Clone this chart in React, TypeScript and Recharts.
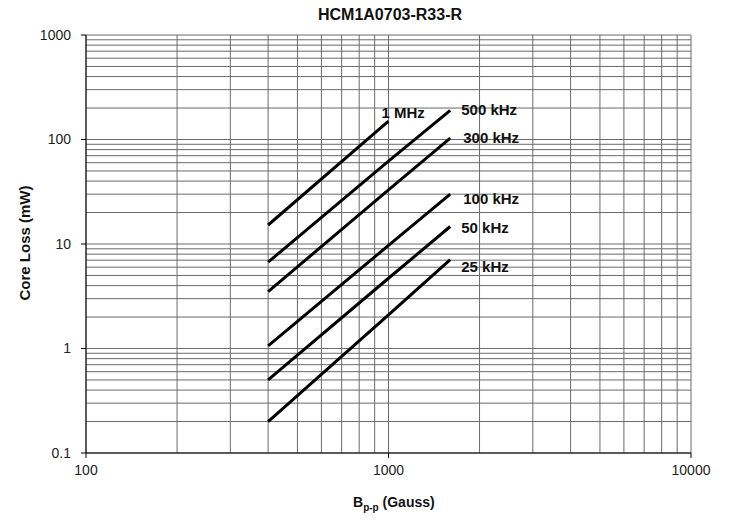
import React from "react";
import {
  LineChart,
  Line,
  XAxis,
  YAxis,
  ReferenceLine,
} from "recharts";

// flux density points (Gauss) and core loss (mW) per frequency
const bLong = [400, 1000, 1600];
const bShort = [400, 1000];

const loss1MHz = [15.2, 150];
const loss500k = [6.7, 62, 190];
const loss300k = [3.5, 33, 103];
const loss100k = [1.06, 9.7, 30];
const loss50k = [0.5, 4.7, 14.7];
const loss25k = [0.2, 2.1, 7.1];

const xTicks = [100, 1000, 10000];
const yTicks = [0.1, 1, 10, 100, 1000];

const seriesNames = ["1 MHz", "500 kHz", "300 kHz", "100 kHz", "50 kHz", "25 kHz"];

// log grid: 1..9 in every decade
const decadeLines = (decades: number[], last: number) => {
  const out: number[] = [];
  decades.forEach((d) => {
    for (let m = 1; m < 10; m++) out.push(d * m);
  });
  out.push(last);
  return out;
};
const xGrid = decadeLines([100, 1000], 10000);
const yGrid = decadeLines([0.1, 1, 10, 100], 1000);

const toPoints = (b: number[], loss: number[]) =>
  b.map((v, i) => ({ b: v, loss: loss[i] }));

const series = [
  { name: seriesNames[0], data: toPoints(bShort, loss1MHz) },
  { name: seriesNames[1], data: toPoints(bLong, loss500k) },
  { name: seriesNames[2], data: toPoints(bLong, loss300k) },
  { name: seriesNames[3], data: toPoints(bLong, loss100k) },
  { name: seriesNames[4], data: toPoints(bLong, loss50k) },
  { name: seriesNames[5], data: toPoints(bLong, loss25k) },
];

// label offset from the last point of each curve
const labelOffsets = [
  { dx: -7, dy: -3 },
  { dx: 11, dy: 5 },
  { dx: 13, dy: 5 },
  { dx: 13, dy: 10 },
  { dx: 11, dy: 6 },
  { dx: 11, dy: 12 },
];

const FONT = "'Liberation Sans', Arial, sans-serif";

const endLabel = (name: string, lastIndex: number, dx: number, dy: number) =>
  (props: any) => {
    if (props.index !== lastIndex) return <g />;
    return (
      <text
        x={props.x + dx}
        y={props.y + dy}
        fontFamily={FONT}
        fontSize={15}
        fontWeight="bold"
        fill="#111"
      >
        {name}
      </text>
    );
  };

export default function App() {
  return (
    <div style={{ position: "absolute", left: 0, top: 0, width: 730, height: 525, background: "#fff" }}>
      <LineChart
        width={730}
        height={525}
        margin={{ top: 35, right: 39, left: 0, bottom: 0 }}
      >
        <XAxis
          dataKey="b"
          type="number"
          scale="log"
          domain={[100, 10000]}
          ticks={xTicks}
          allowDataOverflow
          height={72}
          tickSize={5}
          tickMargin={7}
          stroke="#000"
          tick={{ fill: "#222", fontSize: 14, fontFamily: FONT }}
        />
        <YAxis
          dataKey="loss"
          type="number"
          scale="log"
          domain={[0.1, 1000]}
          ticks={yTicks}
          allowDataOverflow
          width={86}
          tickSize={5}
          tickMargin={10}
          stroke="#000"
          tick={{ fill: "#222", fontSize: 14, fontFamily: FONT }}
        />
        {xGrid.map((v) => (
          <ReferenceLine key={"x" + v} x={v} stroke="#6a6a6a" strokeWidth={1} ifOverflow="extendDomain" />
        ))}
        {yGrid.map((v) => (
          <ReferenceLine key={"y" + v} y={v} stroke="#6a6a6a" strokeWidth={1} ifOverflow="extendDomain" />
        ))}
        {series.map((s, i) => (
          <Line
            key={s.name}
            data={s.data}
            dataKey="loss"
            name={s.name}
            stroke="#000"
            strokeWidth={3}
            dot={false}
            isAnimationActive={false}
            label={endLabel(s.name, s.data.length - 1, labelOffsets[i].dx, labelOffsets[i].dy)}
          />
        ))}
      </LineChart>
      <svg
        width={730}
        height={525}
        style={{ position: "absolute", left: 0, top: 0, pointerEvents: "none" }}
      >
        <text x={390} y={20} textAnchor="middle" fontFamily={FONT} fontSize={16} fontWeight="bold" fill="#111">
          HCM1A0703-R33-R
        </text>
        <text
          x={30}
          y={243}
          transform="rotate(-90 30 243)"
          textAnchor="middle"
          fontFamily={FONT}
          fontSize={15}
          fontWeight="bold"
          fill="#111"
        >
          Core Loss (mW)
        </text>
        <text x={353} y={507} fontFamily={FONT} fontSize={14} fontWeight="bold" fill="#111">
          B
          <tspan fontSize={10} dy={4}>p-p</tspan>
          <tspan dy={-4}> (Gauss)</tspan>
        </text>
      </svg>
    </div>
  );
}
